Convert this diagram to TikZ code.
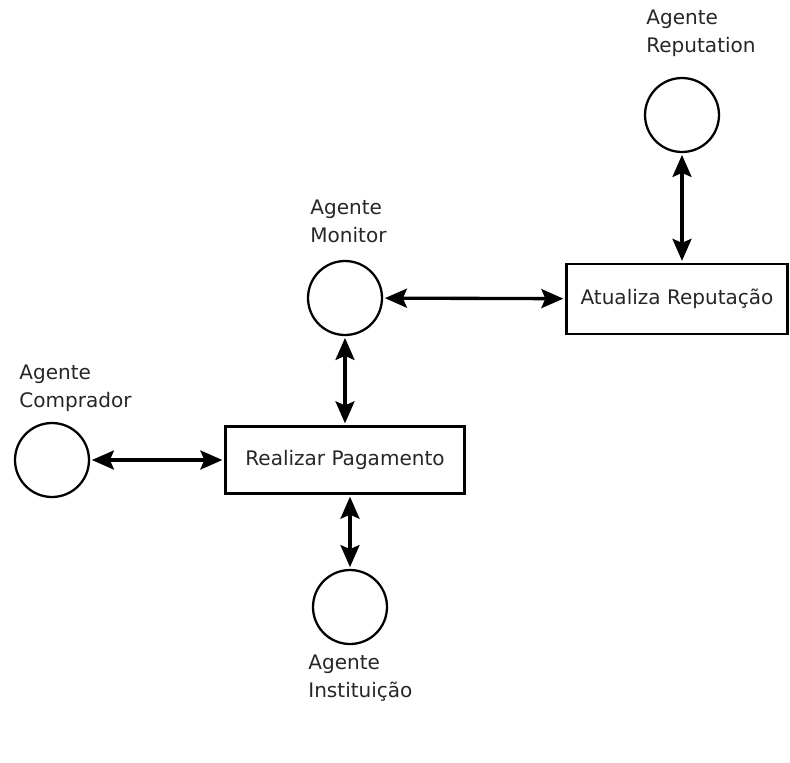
\documentclass[tikz,border=0pt]{standalone}
\usepackage{fontspec}
\setmainfont{DejaVu Sans}
\usetikzlibrary{positioning,arrows.meta}

\begin{document}
\begin{tikzpicture}[x=0.02cm,y=-0.02cm,
  every node/.style={font=\fontsize{11.4}{15.8}\selectfont,color=black!85,},%
  ag/.style={circle,draw=black,line width=1.3pt,minimum size=1.48cm,inner sep=0pt,},%
  uc/.style={rectangle,draw=black,line width=1.6pt,text=black!85,},%
  lb/.style={align=left,inner sep=0pt,anchor=base west,},%
  e/.style={{Stealth[length=0.44cm,width=0.38cm,inset=0.08cm]}-{Stealth[length=0.44cm,width=0.38cm,inset=0.08cm]},%
    line width=1.9pt,shorten <=1pt,shorten >=1pt,},%
  ]
  \useasboundingbox (0,0) rectangle (790,762);

  \node (rep) [ag] at (682,115) {};
  \node (mon) [ag] at (345,298) {};
  \node (comp) [ag] at (52,460) {};
  \node (inst) [ag] at (350,607) {};

  \node (atu) [uc,minimum width=4.42cm,minimum height=1.4cm] at (677,299) {Atualiza Reputação};
  \node (pag) [uc,minimum width=4.78cm,minimum height=1.34cm] at (345,460) {Realizar Pagamento};

  \node (replb) [lb] at (646,52) {Agente\\Reputation};
  \node (monlb) [lb] at (310,242) {Agente\\Monitor};
  \node (complb) [lb] at (19,407) {Agente\\Comprador};
  \node (instlb) [lb] at (308,697) {Agente\\Instituição};

  \draw [e] (rep) -- (rep |- atu.north);
  \draw [e] (mon) -- (atu);
  \draw [e] (mon) -- (pag);
  \draw [e] (comp) -- (pag);
  \draw [e] (pag.south -| inst) -- (inst);
\end{tikzpicture}
\end{document}
